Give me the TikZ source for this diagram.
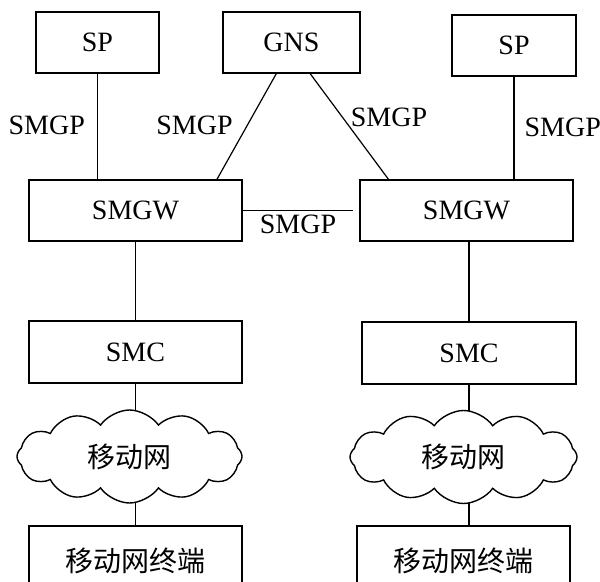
\documentclass[tikz,border=0pt]{standalone}
\usepackage{fontspec}
\setmainfont{Liberation Serif}
\newfontfamily\cjk{Noto Sans CJK SC}
\usepackage{tikz}
\usetikzlibrary{shapes.symbols, calc, backgrounds}

\begin{document}
\begin{tikzpicture}[x=0.5pt,y=-0.5pt,font=\fontsize{14}{16}\selectfont]

% Stili
\tikzset{
  entity/.style={draw, line width=0.7pt, fill=white, minimum height=30.5pt, inner sep=0pt},
  net/.style={cloud, draw, line width=0.7pt, fill=white, cloud puffs=12, cloud puff arc=110,
    aspect=2.4, minimum width=112.5pt, minimum height=46.5pt, inner sep=0pt, font=\fontsize{14}{16}\selectfont\cjk},
  link/.style={line width=0.6pt},
  proto/.style={inner sep=1pt}
}

\useasboundingbox (0,0) rectangle (600,582);

% --- Parte superiore: SP e GNS ---
\node[entity, minimum width=61.5pt] (spL) at (97.5,42.5) {SP};
\node[entity, minimum width=68.5pt] (gns) at (291.5,42.5) {GNS};
\node[entity, minimum width=62pt] (spR) at (514,45.5) {SP};

% Gateway
\node[entity, minimum width=106.5pt] (gwL) at (135.5,210.5) {SMGW};
\node[entity, minimum width=106.5pt] (gwR) at (466.5,210.5) {SMGW};

% Centri SMC
\node[entity, minimum width=106.5pt, minimum height=31pt] (smcL) at (135.5,352) {SMC};
\node[entity, minimum width=107pt, minimum height=31pt] (smcR) at (469,353) {SMC};

% Reti mobili
\node[net] (netL) at (129.5,456.5) {移动网};
\node[net, minimum width=113.5pt] (netR) at (463.5,457) {移动网};

% Terminali
\node[entity, minimum width=106.5pt, minimum height=35pt, font=\fontsize{14}{16}\selectfont\cjk] (termL) at (135.5,561) {移动网终端};
\node[entity, minimum width=106.5pt, minimum height=35pt, font=\fontsize{14}{16}\selectfont\cjk] (termR) at (463.5,561) {移动网终端};

% --- Collegamenti SMGP ---
\coordinate (gap) at ($(gwR.west)+(-6,0)$);
\draw[link] (spL.south) -- node[proto, pos=0.49, left=5pt] {SMGP} (spL.south |- gwL.north);
\draw[link] ($(gns.south west)!0.39!(gns.south east)$) -- node[proto, pos=0.49, left=6pt] {SMGP}
  ($(gwL.north west)!0.88!(gwL.north east)$);
\draw[link] ($(gns.south west)!0.635!(gns.south east)$) -- node[proto, pos=0.41, right=3pt] {SMGP}
  ($(gwR.north west)!0.136!(gwR.north east)$);
\draw[link] (spR.south) -- node[proto, pos=0.49, right=4pt] {SMGP} (spR.south |- gwR.north);
\draw[link] (gwL.east) -- node[proto, below=1pt] {SMGP} (gap);

% --- Catene verticali ---
\begin{scope}[on background layer]
  \draw[link] (gwL.south) -- (smcL.north);
  \draw[link] (smcL.south) -- (termL.north);
  \draw[link] (gwR.south -| smcR.north) -- (smcR.north);
  \draw[link] (smcR.south) -- (smcR.south |- termR.north);
\end{scope}

\end{tikzpicture}
\end{document}
